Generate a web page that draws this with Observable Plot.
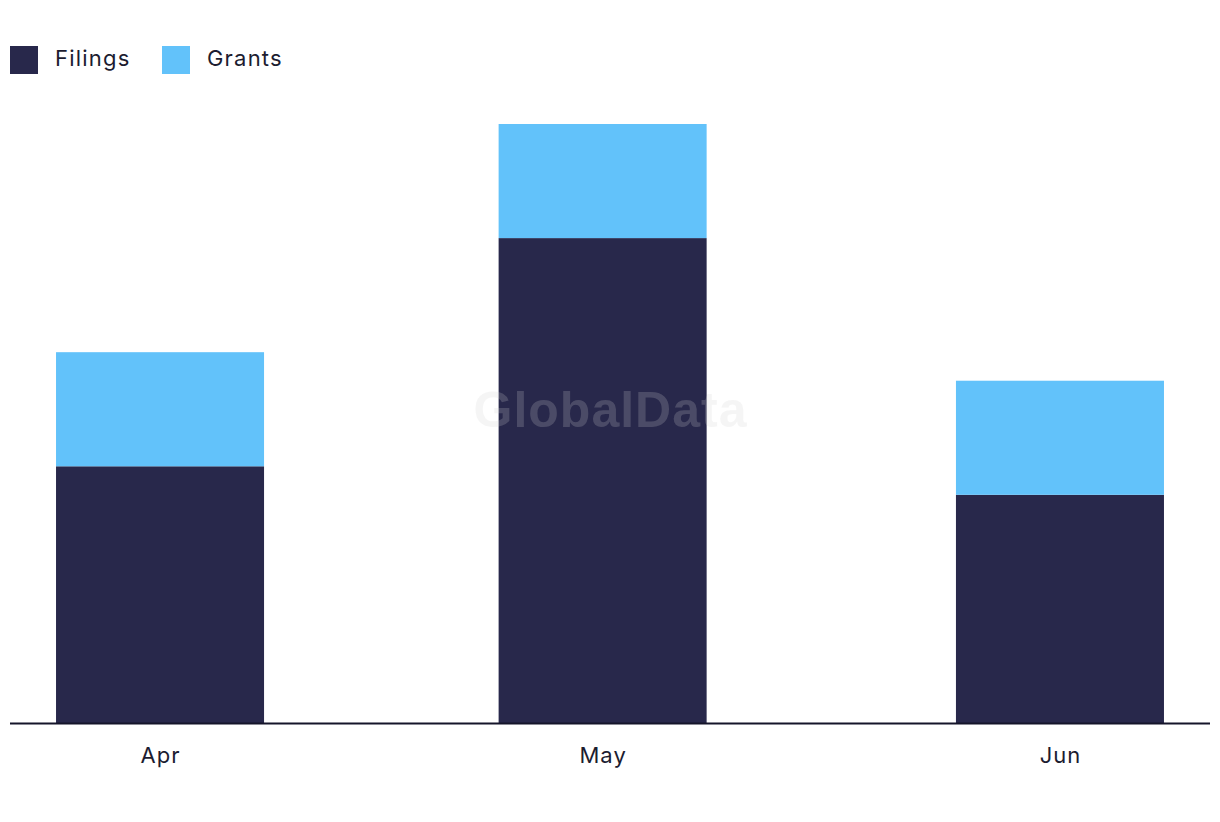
<!DOCTYPE html>
<html>
<head>
<meta charset="utf-8">
<script src="https://cdn.jsdelivr.net/npm/d3@7"></script>
<script src="https://cdn.jsdelivr.net/npm/@observablehq/plot@0.6"></script>
<style>
  body { margin: 0; background: #fff; font-family: Inter, "Noto Sans", sans-serif; color: #1c1c30; }
  #legend { height: 100px; position: relative; }
  .item { position: absolute; top: 46px; display: flex; align-items: center; font-size: 22px; line-height: 28px; letter-spacing: 1.2px; }
  .item .lbl { position: relative; top: -2px; }
  .sw { width: 28px; height: 28px; margin-right: 17px; }
  #chart svg { display: block; }
</style>
</head>
<body>
<div id="legend"></div>
<div id="chart"></div>
<script>
const months = ["2024-04-01", "2024-05-01", "2024-06-01"];
const monthLabels = ["Apr", "May", "Jun"];
const filings = [9, 17, 8];
const grants = [4, 4, 4];
const seriesNames = ["Filings", "Grants"];
const seriesColors = ["#28284b", "#62c2fa"];

const data = [];
months.forEach((m, i) => {
  data.push({date: new Date(m), series: "Filings", value: filings[i]});
  data.push({date: new Date(m), series: "Grants", value: grants[i]});
});

// legend
const legend = document.getElementById("legend");
const legendX = [10, 162];
seriesNames.forEach((s, i) => {
  const d = document.createElement("div");
  d.className = "item";
  d.style.left = legendX[i] + "px";
  d.innerHTML = `<span class="sw" style="background:${seriesColors[i]}"></span><span class="lbl">${s}</span>`;
  legend.appendChild(d);
});

const DAY = 864e5;
const halfWidthDays = 7.05;
const padDays = 10.17;
const t0 = +new Date(months[0]), t1 = +new Date(months[months.length - 1]);

const chart = Plot.plot({
  width: 1220,
  height: 722,
  marginLeft: 10,
  marginRight: 10,
  marginTop: 24,
  marginBottom: 99,
  style: {fontFamily: "Inter, 'Noto Sans', sans-serif", fontSize: "22px", color: "#1c1c30", background: "transparent", letterSpacing: "1px"},
  x: {
    type: "utc",
    domain: [new Date(t0 - padDays * DAY), new Date(t1 + padDays * DAY)],
    ticks: months.map(m => new Date(m)),
    tickFormat: (d) => monthLabels[months.findIndex(m => +new Date(m) === +d)],
    tickSize: 0,
    tickPadding: 24,
    label: null
  },
  y: {domain: [0, 21], axis: null},
  color: {domain: seriesNames, range: seriesColors},
  marks: [
    Plot.rectY(data, Plot.stackY({
      x1: d => new Date(+d.date - halfWidthDays * DAY),
      x2: d => new Date(+d.date + halfWidthDays * DAY),
      y: "value",
      fill: "series",
      order: seriesNames
    })),
    Plot.text(["GlobalData"], {
      frameAnchor: "middle",
      dy: -13,
      text: d => d,
      fontSize: 50,
      fontWeight: "bold",
      fontFamily: "'Liberation Sans', Arial, sans-serif",
      fill: "#cfcfcf",
      fillOpacity: 0.21
    }),
    Plot.ruleY([0], {stroke: "#15152a", strokeWidth: 2})
  ]
});
document.getElementById("chart").appendChild(chart);
</script>
</body>
</html>
